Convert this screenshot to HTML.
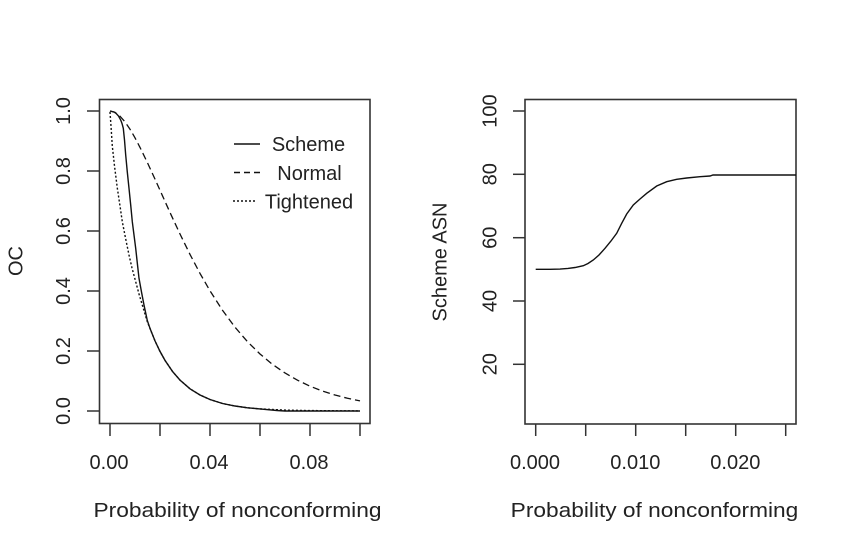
<!DOCTYPE html>
<html>
<head>
<meta charset="utf-8">
<style>
  html, body { margin: 0; padding: 0; background: #ffffff; }
  svg { display: block; }
  .lbl { font-family: "Liberation Sans", Arial, sans-serif; font-size: 20px; fill: #222; }
</style>
</head>
<body>
<svg width="847" height="548" viewBox="0 0 847 548" xmlns="http://www.w3.org/2000/svg">
  <rect x="0" y="0" width="847" height="548" fill="#ffffff"/>

  <!-- ================= LEFT PLOT ================= -->
  <rect x="99.5" y="99.5" width="270.5" height="324" fill="none" stroke="#333" stroke-width="1.6"/>

  <!-- y ticks -->
  <g stroke="#333" stroke-width="1.5">
    <line x1="87" y1="411" x2="99.5" y2="411"/>
    <line x1="87" y1="351" x2="99.5" y2="351"/>
    <line x1="87" y1="291" x2="99.5" y2="291"/>
    <line x1="87" y1="231" x2="99.5" y2="231"/>
    <line x1="87" y1="171" x2="99.5" y2="171"/>
    <line x1="87" y1="111" x2="99.5" y2="111"/>
  </g>
  <g class="lbl" text-anchor="middle">
    <text transform="translate(70,411) rotate(-90)">0.0</text>
    <text transform="translate(70,351) rotate(-90)">0.2</text>
    <text transform="translate(70,291) rotate(-90)">0.4</text>
    <text transform="translate(70,231) rotate(-90)">0.6</text>
    <text transform="translate(70,171) rotate(-90)">0.8</text>
    <text transform="translate(70,111) rotate(-90)">1.0</text>
    <text transform="translate(22.5,261) rotate(-90)">OC</text>
  </g>

  <!-- x ticks -->
  <g stroke="#333" stroke-width="1.5">
    <line x1="110" y1="423.5" x2="110" y2="436"/>
    <line x1="160" y1="423.5" x2="160" y2="436"/>
    <line x1="210" y1="423.5" x2="210" y2="436"/>
    <line x1="260" y1="423.5" x2="260" y2="436"/>
    <line x1="310" y1="423.5" x2="310" y2="436"/>
    <line x1="360" y1="423.5" x2="360" y2="436"/>
  </g>
  <g class="lbl" text-anchor="middle">
    <text x="109" y="469">0.00</text>
    <text x="209" y="469">0.04</text>
    <text x="309" y="469">0.08</text>
  </g>
  <text class="lbl" x="93.5" y="517" font-size="21" textLength="288" lengthAdjust="spacingAndGlyphs">Probability of nonconforming</text>

  <!-- Normal (dashed) -->
  <polyline fill="none" stroke="#111" stroke-width="1.3" stroke-dasharray="7,4"
    points="110,111 115,112.4 120,116.2 125,121.9 130,129.2 135,137.8 140,147.4 147.5,162.8 155,179.1 162.5,195.8 170,212.5 180,234 190,254.4 200,273.4 210,290.8 222.5,310.3 235,327.2 247.5,341.7 260,354 272.5,364.4 285,373 297.5,380.2 310,386.2 322.5,391.1 335,395 347.5,398.3 360,400.9"/>

  <!-- Tightened (dotted) -->
  <polyline fill="none" stroke="#111" stroke-width="1.4" stroke-dasharray="2,2"
    points="110,112 111,126 112.3,146 114.5,166 117.3,188 120,206 122.3,221.7 125.5,238 129,255 132,268 135.7,281.7 139,294 142.3,305 147.3,321.7 150,328.4 155,340.9 160,351.4 165,360.4 172.5,371.4 180,380.1 190,388.8 200,395 210,399.5 222.5,403.5 235,406 247.5,407.8 260,408.9 285,410.1 310,410.6 360,410.9"/>

  <!-- Scheme (solid) -->
  <polyline fill="none" stroke="#111" stroke-width="1.4"
    points="110,111 114,112 116,113.3 118.5,116 120.7,120 122,123.5 123.3,128.3 124.5,140 125.7,155 127.3,172 129,188.3 130.7,205 132.3,221.7 134,235 135.7,248.3 137.3,263 139,278.3 141.5,292 144,305 147.3,320.5 150,328.4 155,340.9 160,351.4 165,360.4 172.5,371.4 180,380.1 190,388.8 200,395 210,399.5 222.5,403.5 235,406 247.5,407.8 260,408.9 277,410.5 285,411 360,411"/>

  <!-- Legend -->
  <line x1="234" y1="144" x2="260" y2="144" stroke="#111" stroke-width="1.4"/>
  <line x1="234" y1="172.5" x2="260" y2="172.5" stroke="#111" stroke-width="1.4" stroke-dasharray="6,4"/>
  <line x1="233" y1="201" x2="257" y2="201" stroke="#111" stroke-width="1.4" stroke-dasharray="2,2"/>
  <g class="lbl" text-anchor="middle">
    <text x="308.5" y="151">Scheme</text>
    <text x="309.5" y="180">Normal</text>
    <text x="309" y="208.5">Tightened</text>
  </g>

  <!-- ================= RIGHT PLOT ================= -->
  <rect x="525" y="99.5" width="271" height="324.5" fill="none" stroke="#333" stroke-width="1.6"/>

  <!-- y ticks -->
  <g stroke="#333" stroke-width="1.5">
    <line x1="513" y1="364.3" x2="525" y2="364.3"/>
    <line x1="513" y1="301" x2="525" y2="301"/>
    <line x1="513" y1="237.7" x2="525" y2="237.7"/>
    <line x1="513" y1="174.3" x2="525" y2="174.3"/>
    <line x1="513" y1="111" x2="525" y2="111"/>
  </g>
  <g class="lbl" text-anchor="middle">
    <text transform="translate(496.5,364.3) rotate(-90)">20</text>
    <text transform="translate(496.5,301) rotate(-90)">40</text>
    <text transform="translate(496.5,237.7) rotate(-90)">60</text>
    <text transform="translate(496.5,174.3) rotate(-90)">80</text>
    <text transform="translate(496.5,111) rotate(-90)">100</text>
    <text transform="translate(446.5,262) rotate(-90)">Scheme ASN</text>
  </g>

  <!-- x ticks -->
  <g stroke="#333" stroke-width="1.5">
    <line x1="535.7" y1="424" x2="535.7" y2="436"/>
    <line x1="585.7" y1="424" x2="585.7" y2="436"/>
    <line x1="635.7" y1="424" x2="635.7" y2="436"/>
    <line x1="685.7" y1="424" x2="685.7" y2="436"/>
    <line x1="735.7" y1="424" x2="735.7" y2="436"/>
    <line x1="785.7" y1="424" x2="785.7" y2="436"/>
  </g>
  <g class="lbl" text-anchor="middle">
    <text x="535" y="469">0.000</text>
    <text x="635.3" y="469">0.010</text>
    <text x="735.3" y="469">0.020</text>
  </g>
  <text class="lbl" x="510.7" y="517" font-size="21" textLength="287.6" lengthAdjust="spacingAndGlyphs">Probability of nonconforming</text>

  <!-- ASN curve -->
  <polyline fill="none" stroke="#111" stroke-width="1.4"
    points="535.7,269.3 550,269.3 560,269.1 568,268.4 575,267.5 583.3,265.7 588,263.5 593.3,260 599,255 605,248.3 611,241 616.7,233.3 621.7,223.3 626.7,214 633.3,205 640,199 646.7,193.3 656.7,186 666.7,181.7 676.7,179.3 686.7,178 700,176.7 710,176 713,175 796,175"/>
</svg>
</body>
</html>
